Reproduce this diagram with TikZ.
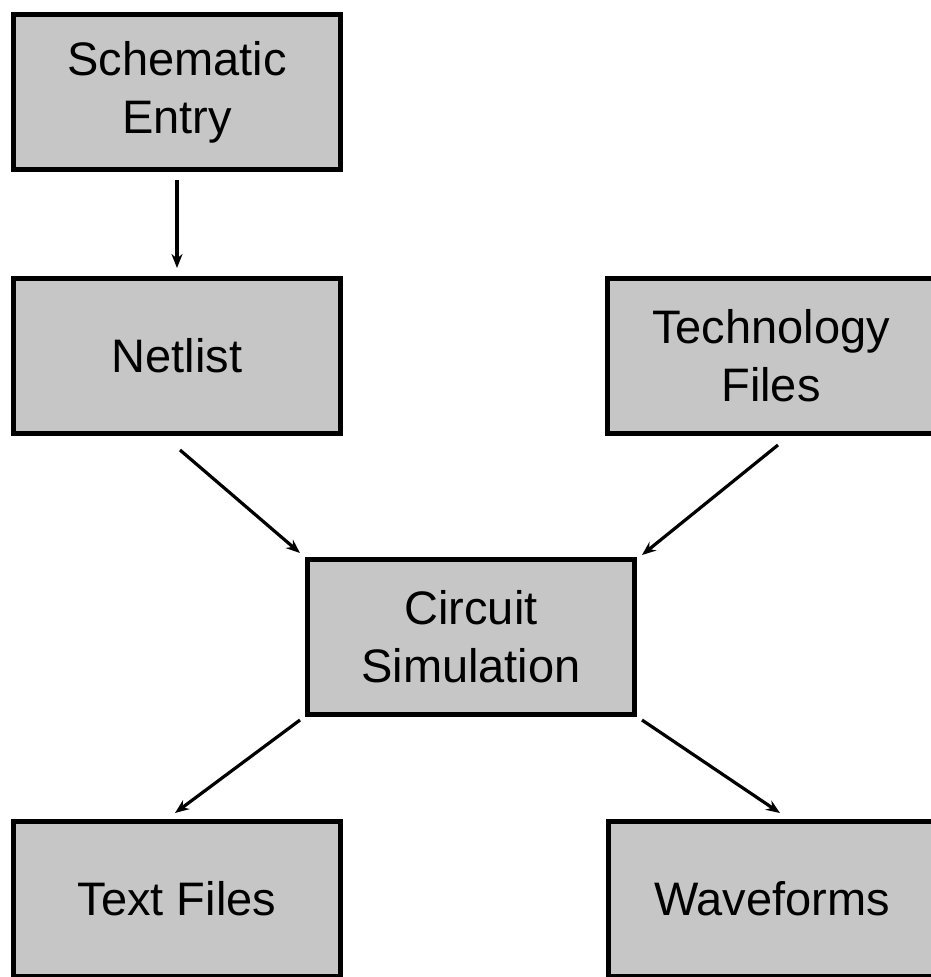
\documentclass[tikz,border=0pt]{standalone}
\usepackage{fontspec}
\setmainfont{Liberation Sans}
\usetikzlibrary{arrows.meta,calc}
\definecolor{boxgray}{RGB}{198,198,198}
\begin{document}
\begin{tikzpicture}[x=1pt,y=-1pt,
  box/.style={draw=black,line width=5pt,fill=boxgray,minimum width=327pt,minimum height=155pt,
    inner sep=0pt,align=center,font=\fontsize{47}{58}\selectfont},
  conn/.style={line width=3.2pt,-{Stealth[length=14pt,width=11pt]}}]
\useasboundingbox (0,0) rectangle (931,977);
\fill[white] (0,0) rectangle (931,977);
\node[box] (sch) at (177,92) {Schematic\\Entry};
\node[box] (net) at (177,356) {Netlist};
\node[box] (tech) at (771,356) {Technology\\Files};
\node[box] (sim) at (471,637) {Circuit\\Simulation};
\node[box] (txt) at (177,899) {Text Files};
\node[box] (wav) at (772,899) {Waveforms};
\draw[conn] ([yshift=-8pt]sch.south) -- ([yshift=8pt]net.north);
\draw[conn] ([shift={(3,14)}]net.south) -- ([shift={(-5,-4)}]sim.north west);
\draw[conn] ([shift={(7,9)}]tech.south) -- ([shift={(5,-2)}]sim.north east);
\draw[conn] ([shift={(-5,3)}]sim.south west) -- ([shift={(-2,-6)}]txt.north);
\draw[conn] ([shift={(5,3)}]sim.south east) -- ([shift={(8,-6)}]wav.north);
\end{tikzpicture}
\end{document}
